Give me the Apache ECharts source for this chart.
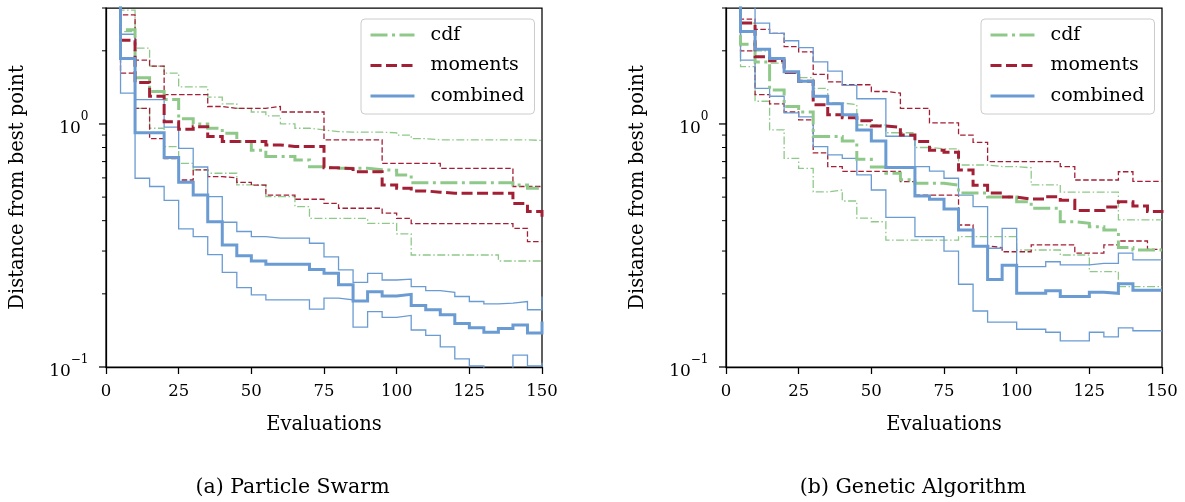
<!DOCTYPE html>
<html>
<head>
<meta charset="utf-8">
<script src="https://cdn.jsdelivr.net/npm/echarts@6/dist/echarts.min.js"></script>
<style>
  html, body { margin: 0; padding: 0; background: #ffffff; }
  #chart { width: 1185px; height: 502px; }
</style>
</head>
<body>
<div id="chart"></div>
<script>
// Evaluation counts at which the optimiser traces are sampled
const EVALS = [0, 5, 10, 15, 20, 25, 30, 35, 40, 45, 50, 55, 60, 65, 70, 75,
               80, 85, 90, 95, 100, 105, 110, 115, 120, 125, 130, 135, 140, 145, 150];

// (a) Particle Swarm: median and lower/upper quantile of distance from best point
const psoCdfMed  = [3.5, 2.44, 1.55, 1.36, 1.26, 1.05, 1.0, 0.96, 0.915, 0.846, 0.78, 0.734, 0.734, 0.711, 0.667, 0.657,
                    0.657, 0.657, 0.648, 0.645, 0.617, 0.573, 0.573, 0.573, 0.573, 0.573, 0.573, 0.573, 0.561, 0.544, 0.544];
const psoCdfHi   = [3.5, 2.94, 2.05, 1.73, 1.62, 1.42, 1.42, 1.29, 1.21, 1.16, 1.12, 1.08, 1.0, 0.96, 0.945, 0.93,
                    0.925, 0.925, 0.925, 0.92, 0.9, 0.87, 0.86, 0.86, 0.86, 0.86, 0.86, 0.86, 0.86, 0.855, 0.85];
const psoCdfLo   = [3.5, 2.4, 1.16, 0.96, 0.807, 0.689, 0.647, 0.627, 0.627, 0.561, 0.561, 0.502, 0.502, 0.457, 0.409, 0.409,
                    0.409, 0.409, 0.39, 0.39, 0.353, 0.289, 0.289, 0.289, 0.289, 0.289, 0.289, 0.273, 0.273, 0.273, 0.273];
const psoMomMed  = [3.5, 2.21, 1.48, 1.3, 1.02, 0.95, 0.975, 0.887, 0.846, 0.846, 0.846, 0.82, 0.807, 0.807, 0.807, 0.66,
                    0.655, 0.636, 0.636, 0.561, 0.544, 0.53, 0.524, 0.519, 0.519, 0.519, 0.519, 0.519, 0.471, 0.436, 0.409];
const psoMomHi   = [3.5, 2.81, 1.83, 1.73, 1.32, 1.32, 1.32, 1.18, 1.16, 1.16, 1.16, 1.18, 1.12, 1.12, 1.12, 0.86,
                    0.86, 0.86, 0.86, 0.689, 0.689, 0.689, 0.689, 0.657, 0.657, 0.657, 0.657, 0.657, 0.553, 0.553, 0.553];
const psoMomLo   = [3.5, 1.62, 1.16, 0.87, 0.72, 0.588, 0.647, 0.607, 0.6, 0.575, 0.56, 0.51, 0.51, 0.49, 0.49, 0.471,
                    0.45, 0.45, 0.45, 0.43, 0.409, 0.389, 0.389, 0.389, 0.389, 0.389, 0.389, 0.389, 0.372, 0.328, 0.328];
const psoCombMed = [3.5, 1.86, 0.92, 0.92, 0.728, 0.575, 0.51, 0.396, 0.318, 0.287, 0.273, 0.265, 0.265, 0.265, 0.252, 0.243,
                    0.218, 0.187, 0.204, 0.196, 0.199, 0.179, 0.172, 0.164, 0.151, 0.145, 0.139, 0.144, 0.149, 0.138, 0.154];
const psoCombHi  = [3.5, 2.34, 1.26, 1.26, 0.97, 0.794, 0.665, 0.502, 0.394, 0.361, 0.344, 0.339, 0.339, 0.339, 0.323, 0.284,
                    0.251, 0.223, 0.243, 0.228, 0.23, 0.214, 0.206, 0.203, 0.195, 0.186, 0.182, 0.183, 0.186, 0.172, 0.195];
const psoCombLo  = [3.5, 1.34, 0.598, 0.553, 0.485, 0.37, 0.344, 0.29, 0.245, 0.212, 0.198, 0.189, 0.189, 0.189, 0.173, 0.192,
                    0.189, 0.146, 0.169, 0.16, 0.163, 0.142, 0.135, 0.121, 0.108, 0.101, 0.095, 0.095, 0.112, 0.101, 0.104];

// (b) Genetic Algorithm
const gaCdfMed  = [3.5, 2.13, 1.8, 1.38, 1.18, 1.12, 0.887, 0.887, 0.85, 0.715, 0.665, 0.627, 0.59, 0.57, 0.57, 0.56,
                   0.52, 0.52, 0.5, 0.5, 0.479, 0.45, 0.45, 0.396, 0.39, 0.378, 0.366, 0.31, 0.303, 0.303, 0.303];
const gaCdfHi   = [3.5, 2.6, 2.0, 1.78, 1.62, 1.55, 1.4, 1.22, 1.2, 0.99, 0.99, 0.92, 0.92, 0.8, 0.79, 0.79,
                   0.678, 0.678, 0.668, 0.668, 0.66, 0.561, 0.561, 0.524, 0.524, 0.524, 0.524, 0.403, 0.403, 0.403, 0.403];
const gaCdfLo   = [3.5, 1.72, 1.24, 0.945, 0.722, 0.657, 0.525, 0.535, 0.482, 0.41, 0.396, 0.333, 0.333, 0.333, 0.333, 0.333,
                   0.344, 0.344, 0.344, 0.344, 0.303, 0.303, 0.303, 0.289, 0.289, 0.247, 0.247, 0.214, 0.214, 0.214, 0.214];
const gaMomMed  = [3.5, 2.6, 1.89, 1.82, 1.63, 1.5, 1.2, 1.09, 1.06, 1.03, 0.98, 0.97, 0.9, 0.846, 0.78, 0.765,
                   0.647, 0.56, 0.52, 0.5, 0.491, 0.491, 0.502, 0.485, 0.44, 0.44, 0.455, 0.479, 0.46, 0.436, 0.43];
const gaMomHi   = [3.5, 2.7, 2.45, 2.36, 2.08, 1.98, 1.6, 1.49, 1.45, 1.45, 1.36, 1.34, 1.16, 1.16, 1.01, 1.01,
                   0.9, 0.84, 0.7, 0.7, 0.7, 0.7, 0.7, 0.667, 0.588, 0.588, 0.588, 0.636, 0.58, 0.58, 0.58];
const gaMomLo   = [3.5, 2.0, 1.32, 1.21, 1.12, 1.04, 0.76, 0.667, 0.638, 0.638, 0.638, 0.638, 0.579, 0.51, 0.51, 0.51,
                   0.384, 0.315, 0.31, 0.298, 0.298, 0.318, 0.318, 0.318, 0.294, 0.294, 0.318, 0.33, 0.33, 0.305, 0.305];
const gaCombMed = [3.5, 2.4, 2.03, 1.86, 1.64, 1.5, 1.3, 1.21, 1.09, 0.945, 0.85, 0.662, 0.662, 0.505, 0.49, 0.447,
                   0.366, 0.314, 0.229, 0.262, 0.201, 0.201, 0.206, 0.195, 0.195, 0.203, 0.201, 0.22, 0.207, 0.207, 0.207];
const gaCombHi  = [3.5, 3.2, 2.6, 2.36, 2.2, 2.06, 1.8, 1.65, 1.44, 1.27, 1.27, 0.89, 0.89, 0.667, 0.64, 0.598,
                   0.51, 0.457, 0.308, 0.372, 0.259, 0.259, 0.271, 0.263, 0.263, 0.267, 0.267, 0.294, 0.276, 0.276, 0.276];
const gaCombLo  = [3.5, 1.83, 1.4, 1.3, 1.11, 1.07, 0.807, 0.746, 0.722, 0.617, 0.535, 0.413, 0.413, 0.344, 0.344, 0.3,
                   0.219, 0.17, 0.153, 0.153, 0.143, 0.143, 0.139, 0.128, 0.128, 0.139, 0.133, 0.145, 0.141, 0.141, 0.141];

// Axis ticks and text
const X_TICK_STEP = 25;
const Y_MAJOR = [0.1, 1];
const Y_MAJOR_EXP = ['\u22121', '0'];
const Y_MINOR = [0.2, 0.3, 0.4, 0.5, 0.6, 0.7, 0.8, 0.9, 2, 3];
const METHODS = ['cdf', 'moments', 'combined'];
const CAPTIONS = ['(a) Particle Swarm', '(b) Genetic Algorithm'];
const X_NAME = 'Evaluations';
const Y_NAME = 'Distance from best point';

const PANELS = [
  { cdf: [psoCdfLo, psoCdfMed, psoCdfHi], moments: [psoMomLo, psoMomMed, psoMomHi], combined: [psoCombLo, psoCombMed, psoCombHi] },
  { cdf: [gaCdfLo, gaCdfMed, gaCdfHi],   moments: [gaMomLo, gaMomMed, gaMomHi],   combined: [gaCombLo, gaCombMed, gaCombHi] }
];

// Styling
const FONT = 'DejaVu Serif';
const STYLE = {
  cdf:      { color: '#8fc98a', thick: [17, 4.5, 3, 4.5], thin: [8, 2.5, 1.5, 2.5] },
  moments:  { color: '#a21f35', thick: [11, 4.5],         thin: [5.5, 2.5] },
  combined: { color: '#6a9bd2', thick: 'solid',           thin: 'solid' }
};
const GRID_LEFT = [106, 726];
const GRID_TOP = 8, GRID_W = 436, GRID_H = 359;
const CAPTION_X = [292.5, 913];

const chart = echarts.init(document.getElementById('chart'), null, { renderer: 'canvas' });

function toPairs(vals) { return EVALS.map((x, i) => [x, vals[i]]); }

function traceSeries(name, vals, method, thick, gi) {
  const st = STYLE[method];
  return {
    type: 'line', name: name, xAxisIndex: gi, yAxisIndex: gi,
    data: toPairs(vals), step: 'end', symbol: 'none', showSymbol: false,
    silent: true, animation: false, clip: true,
    z: thick ? 3 : 2,
    lineStyle: { color: st.color, width: thick ? 3 : 1.3, type: thick ? st.thick : st.thin, cap: 'butt', join: 'miter' },
    itemStyle: { color: st.color }
  };
}

const series = [];
PANELS.forEach((panel, gi) => {
  METHODS.forEach(m => {
    series.push(traceSeries(m + ' lower', panel[m][0], m, false, gi));
    series.push(traceSeries(m + ' upper', panel[m][2], m, false, gi));
  });
  METHODS.forEach(m => series.push(traceSeries(m, panel[m][1], m, true, gi)));
});

const axisLine = { show: true, onZero: false, lineStyle: { color: '#000', width: 1.25 } };

const option = {
  backgroundColor: '#ffffff',
  animation: false,
  grid: GRID_LEFT.map(l => ({
    left: l, top: GRID_TOP, width: GRID_W, height: GRID_H,
    show: true, borderColor: '#000', borderWidth: 1.25, backgroundColor: 'transparent',
    containLabel: false, outerBoundsMode: 'none'
  })),
  xAxis: GRID_LEFT.map((l, gi) => ({
    gridIndex: gi, type: 'value', min: 0, max: 150, interval: X_TICK_STEP,
    axisLine: axisLine,
    axisTick: { show: true, inside: false, length: 7, lineStyle: { color: '#000', width: 1.25 } },
    axisLabel: { fontFamily: FONT, fontSize: 16.5, color: '#000', margin: 16 },
    splitLine: { show: false },
    name: X_NAME, nameLocation: 'middle', nameGap: 48,
    nameTextStyle: { fontFamily: FONT, fontSize: 19.5, color: '#000' }
  })),
  yAxis: GRID_LEFT.map((l, gi) => ({
    gridIndex: gi, type: 'log', logBase: 10, min: 0.1, max: 3,
    axisLine: axisLine,
    axisTick: { show: false }, axisLabel: { show: false },
    splitLine: { show: false }, minorTick: { show: false }, minorSplitLine: { show: false },
    name: Y_NAME, nameLocation: 'middle', nameGap: 78, nameRotate: 90,
    nameTextStyle: { fontFamily: FONT, fontSize: 19.5, color: '#000' }
  })),
  legend: GRID_LEFT.map(l => ({
    data: METHODS, orient: 'vertical', left: l + 255, top: 19,
    itemWidth: 44, itemHeight: 20, itemGap: 10.5,
    padding: [6, 10, 8, 8],
    backgroundColor: 'rgba(255,255,255,0.8)', borderColor: '#cccccc', borderWidth: 1, borderRadius: 4,
    selectedMode: false,
    // legend keys show only the line sample
    itemStyle: { opacity: 0 },
    lineStyle: { width: 3 },
    textStyle: { fontFamily: FONT, fontSize: 19, color: '#000', lineHeight: 20, padding: [0, 0, 0, 11] }
  })),
  series: series
};

chart.setOption(option);

// Log-axis ticks (decades and the 2..9 sub-decades) and decade labels, placed through the axis scale
const graphics = [];
GRID_LEFT.forEach((l, gi) => {
  const x0 = chart.convertToPixel({ xAxisIndex: gi }, 0);
  Y_MAJOR.forEach((v, k) => {
    const y = chart.convertToPixel({ yAxisIndex: gi }, v);
    graphics.push({ type: 'line', silent: true, z: 10,
      shape: { x1: x0 - 7, y1: y, x2: x0, y2: y }, style: { stroke: '#000', lineWidth: 1.25 } });
    graphics.push({ type: 'text', silent: true, z: 10, x: x0 - 17.5, y: y,
      style: {
        text: '{b|10}{s|' + Y_MAJOR_EXP[k] + '}', align: 'right', verticalAlign: 'middle',
        rich: {
          b: { fontFamily: FONT, fontSize: 17, lineHeight: 26, verticalAlign: 'bottom', fill: '#000' },
          s: { fontFamily: FONT, fontSize: 12, lineHeight: 12, verticalAlign: 'top', fill: '#000' }
        }
      } });
  });
  Y_MINOR.forEach(v => {
    const y = chart.convertToPixel({ yAxisIndex: gi }, v);
    graphics.push({ type: 'line', silent: true, z: 10,
      shape: { x1: x0 - 4, y1: y, x2: x0, y2: y }, style: { stroke: '#000', lineWidth: 1 } });
  });
});
CAPTIONS.forEach((c, gi) => {
  graphics.push({ type: 'text', silent: true, x: CAPTION_X[gi], y: 487.5,
    style: { text: c, align: 'center', verticalAlign: 'middle', fontFamily: FONT, fontSize: 20.5, fill: '#000' } });
});
chart.setOption({ graphic: graphics });
</script>
</body>
</html>
